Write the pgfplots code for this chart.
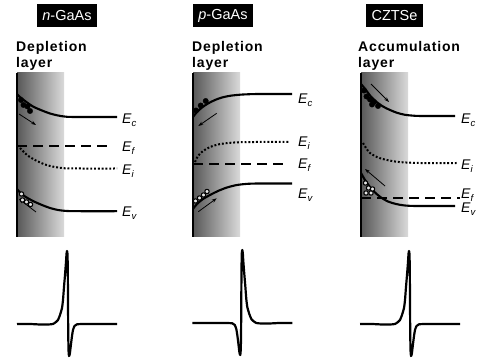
\documentclass[border=0pt]{standalone}
\usepackage{pgfplots}
\pgfplotsset{compat=1.18}
\usepackage{fontspec}
\setmainfont{Liberation Sans}
\newfontfamily\hd[LetterSpace=6]{Liberation Sans}
\usetikzlibrary{arrows.meta}
\definecolor{gdark}{RGB}{88,88,88}
\definecolor{glight}{RGB}{218,218,218}
\newcommand{\En}[1]{{\fontsize{14}{14}\selectfont\textit{E}\raisebox{-0.4ex}{\fontsize{9.5}{9.5}\selectfont\textit{#1}}}}
\begin{document}
\begin{tikzpicture}
\begin{axis}[
  width=485pt, height=363pt, scale only axis,
  xmin=0, xmax=485, ymin=0, ymax=363, y dir=reverse,
  hide axis, clip=false,
  every axis plot/.append style={line join=round},
]
\coordinate (bl) at (rel axis cs:0,0);
\coordinate (tr) at (rel axis cs:1,1);
% ---------- gradient layers ----------
\addplot[draw=none, left color=gdark, right color=glight] coordinates {(17,73) (64,73) (64,237) (17,237) (17,73)};
\addplot[draw=none, left color=gdark, right color=glight] coordinates {(193,73) (240,73) (240,237) (193,237) (193,73)};
\addplot[draw=none, left color=gdark, right color=glight] coordinates {(361,73) (408,73) (408,237) (361,237) (361,73)};
% surfaces
\addplot[line width=2.2pt] coordinates {(17,73) (17,237)};
\addplot[line width=2.2pt] coordinates {(193,73) (193,237)};
\addplot[line width=2.2pt] coordinates {(361,73) (361,237)};
% ---------- panel 1: n-GaAs ----------
\addplot[line width=2.1pt, smooth] coordinates {(17,94) (20,97) (25,101) (33,106.5) (42,110.5) (50,113.5) (58,115.5) (67,116.8) (80,117) (117,117)};
\addplot[line width=2.1pt, dash pattern=on 10pt off 6pt] coordinates {(17,146) (111,146)};
\addplot[line width=2pt, dash pattern=on 1.9pt off 1.9pt, smooth] coordinates {(20,148) (27,155) (35,160) (45,164.5) (55,167) (65,168.3) (80,168.5) (117,168.5)};
\addplot[line width=2.1pt, smooth] coordinates {(17,189) (20,192.5) (25,196.5) (33,201) (42,205) (50,208) (58,210) (67,211) (80,211.2) (117,211.2)};
\addplot[only marks, mark=*, mark size=2.7pt, mark options={fill=black}] coordinates {(21,100) (23.5,105) (27.5,106.5) (30,111)};
\addplot[only marks, mark=*, mark size=2.2pt, mark options={fill=white!80!gray, draw=black, line width=1.1pt}] coordinates {(21.5,194) (22.5,200) (26.5,202) (30.5,204.5)};
\addplot[line width=0.8pt, -{Stealth[length=5pt,width=3.5pt]}] coordinates {(19,114) (36,125)};
\addplot[line width=0.8pt, -{Stealth[length=5pt,width=3.5pt]}] coordinates {(36,212) (19,199)};
% ---------- panel 2: p-GaAs ----------
\addplot[line width=2.1pt, smooth] coordinates {(193,117) (197,112) (202,107.5) (208,103.5) (215,100) (222,97.5) (230,95.8) (240,94.7) (250,94.2) (260,94) (292,94)};
\addplot[line width=2pt, dash pattern=on 1.9pt off 1.9pt, smooth] coordinates {(195,162) (198,156) (203,151) (210,147) (218,144.5) (228,143) (240,142.2) (255,142) (290,142)};
\addplot[line width=2.1pt, dash pattern=on 10pt off 6pt] coordinates {(193,164.3) (287,164.3)};
\addplot[line width=2.1pt, smooth] coordinates {(193,209) (197,204) (203,199) (210,195) (218,191) (227,187.5) (237,185) (248,183.8) (260,183.5) (292,183.5)};
\addplot[only marks, mark=*, mark size=2.7pt, mark options={fill=black}] coordinates {(196,110.5) (200.7,105.5) (205.7,101)};
\addplot[only marks, mark=*, mark size=2.2pt, mark options={fill=white!80!gray, draw=black, line width=1.1pt}] coordinates {(195.5,201) (199.5,198) (203.5,195) (207,191.5)};
\addplot[line width=0.8pt, -{Stealth[length=5pt,width=3.5pt]}] coordinates {(216.7,113.3) (198.3,126)};
\addplot[line width=0.8pt, -{Stealth[length=5pt,width=3.5pt]}] coordinates {(198.3,211.7) (216.7,198.3)};
% ---------- panel 3: CZTSe ----------
\addplot[line width=2.1pt, smooth] coordinates {(361,84) (366,90) (370,95.5) (376,101.5) (383,106.5) (390,110) (397,112.8) (405,114.8) (415,115.8) (425,116) (455,116)};
\addplot[line width=2pt, dash pattern=on 1.9pt off 1.9pt, smooth] coordinates {(363,143) (366,148) (370,153) (378,157.5) (387,160) (397,161.8) (408,162.6) (420,163) (458,163)};
\addplot[line width=2.1pt, dash pattern=on 10pt off 6pt] coordinates {(361,198) (460,198)};
\addplot[line width=2.1pt, smooth] coordinates {(361,173) (365,180) (370,187) (375,192.5) (381,197.5) (388,201.5) (396,204) (405,205.5) (415,206) (425,206) (455,206)};
\addplot[only marks, mark=*, mark size=2.7pt, mark options={fill=black}] coordinates {(364,90.5) (366.5,96.5) (370,99.5) (374,102) (378,106) (372,104.5)};
\addplot[only marks, mark=*, mark size=2.2pt, mark options={fill=white!80!gray, draw=black, line width=1.1pt}] coordinates {(365.5,183) (368.5,188) (366,193) (371,193) (372.5,189)};
\addplot[line width=0.8pt, -{Stealth[length=5pt,width=3.5pt]}] coordinates {(371,84) (389,102)};
\addplot[line width=0.8pt, -{Stealth[length=5pt,width=3.5pt]}] coordinates {(385,186) (365,169)};
% ---------- waveforms ----------
\addplot[line width=2.2pt, smooth, tension=0.3] coordinates {(17,324) (30,324) (40,324.5) (48,324.5) (53,324) (56,322) (58,320) (60,315) (62,308) (63,300) (64,287) (65,275) (66,262) (66.5,254) (67,251) (67.5,254) (67.8,270) (68,300) (68.2,330) (68.5,350) (69,356) (69.8,354) (71,344) (72,336) (73,330) (74.5,326) (77,324.3) (85,324) (117,324)};
\addplot[line width=2.2pt, smooth, tension=0.3] coordinates {(192.3,323) (224.3,323) (232.3,323.3) (234.8,325) (236.3,329) (237.3,335) (238.3,343) (239.5,353) (240.3,355) (240.8,349) (241.1,329) (241.3,299) (241.5,269) (241.8,253) (242.3,250) (242.8,253) (243.3,261) (244.3,274) (245.3,286) (246.3,299) (247.3,307) (249.3,314) (251.3,319) (253.3,321) (256.3,323) (261.3,323.5) (269.3,323.5) (279.3,323) (292.3,323)};
\addplot[line width=2.2pt, smooth, tension=0.3] coordinates {(360,324) (372,324) (382,324.5) (390,324.5) (395,324) (398,322) (400,320) (402,315) (404,308) (405,300) (406,287) (407,275) (408,262) (408.5,254) (409,251) (409.5,254) (409.8,270) (410,300) (410.2,330) (410.5,350) (411,356) (411.8,354) (413,344) (414,336) (415,330) (416.5,326) (419,324.3) (427,324) (460,324)};
% ---------- text ----------
\node[fill=black, text=white, minimum width=60pt, minimum height=23pt, inner sep=0pt] at (axis cs:67,15.5) {\fontsize{14.5}{14.5}\selectfont\textit{n}-GaAs};
\node[fill=black, text=white, minimum width=60pt, minimum height=23pt, inner sep=0pt] at (axis cs:223,15.5) {\fontsize{14.5}{14.5}\selectfont\textit{p}-GaAs};
\node[fill=black, text=white, minimum width=57pt, minimum height=23pt, inner sep=0pt] at (axis cs:394.5,15.5) {\fontsize{14.5}{14.5}\selectfont CZTSe};
\node[anchor=base west, inner sep=0pt] at (axis cs:16,52) {\fontsize{14}{14}\selectfont\hd\bfseries Depletion};
\node[anchor=base west, inner sep=0pt] at (axis cs:16,67.5) {\fontsize{14}{14}\selectfont\hd\bfseries layer};
\node[anchor=base west, inner sep=0pt] at (axis cs:192,52) {\fontsize{14}{14}\selectfont\hd\bfseries Depletion};
\node[anchor=base west, inner sep=0pt] at (axis cs:192,67.5) {\fontsize{14}{14}\selectfont\hd\bfseries layer};
\node[anchor=base west, inner sep=0pt] at (axis cs:358,52) {\fontsize{14}{14}\selectfont\hd\bfseries Accumulation};
\node[anchor=base west, inner sep=0pt] at (axis cs:358,67.5) {\fontsize{14}{14}\selectfont\hd\bfseries layer};
% band labels
\node[anchor=base west, inner sep=0pt] at (axis cs:122,123.3) {\En{c}};
\node[anchor=base west, inner sep=0pt] at (axis cs:122,151.7) {\En{f}};
\node[anchor=base west, inner sep=0pt] at (axis cs:122,175) {\En{i}};
\node[anchor=base west, inner sep=0pt] at (axis cs:122,216.7) {\En{v}};
\node[anchor=base west, inner sep=0pt] at (axis cs:298,103.3) {\En{c}};
\node[anchor=base west, inner sep=0pt] at (axis cs:298,146.7) {\En{i}};
\node[anchor=base west, inner sep=0pt] at (axis cs:298,168.5) {\En{f}};
\node[anchor=base west, inner sep=0pt] at (axis cs:298,198.3) {\En{v}};
\node[anchor=base west, inner sep=0pt] at (axis cs:461,124) {\En{c}};
\node[anchor=base west, inner sep=0pt] at (axis cs:461,170) {\En{i}};
\node[anchor=base west, inner sep=0pt] at (axis cs:461,199) {\En{f}};
\node[anchor=base west, inner sep=0pt] at (axis cs:461,213) {\En{v}};
\end{axis}
\pgfresetboundingbox
\path (bl) rectangle (tr);
\end{tikzpicture}
\end{document}
